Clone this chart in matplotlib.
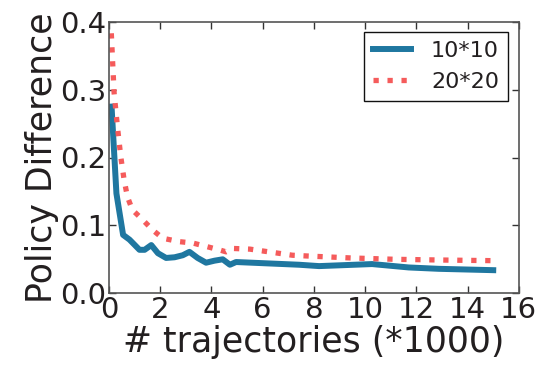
import matplotlib
matplotlib.use("Agg")
import matplotlib.pyplot as plt

x_10 = [0.1, 0.29, 0.55, 0.8, 1.19, 1.39, 1.65, 1.91, 2.23, 2.56, 2.88, 3.14, 3.46, 3.79, 4.12, 4.44, 4.72, 4.96, 7.42, 8.2, 10.27, 11.7, 12.87, 15.0]
y_10 = [0.275, 0.147, 0.086, 0.079, 0.064, 0.064, 0.071, 0.059, 0.052, 0.053, 0.056, 0.061, 0.052, 0.045, 0.048, 0.050, 0.042, 0.046, 0.042, 0.040, 0.043, 0.038, 0.036, 0.034]

x_20 = [0.09, 0.15, 0.2, 0.33, 0.46, 0.59, 0.72, 0.91, 1.32, 1.71, 2.1, 2.75, 3.27, 3.79, 4.3, 4.57, 4.83, 5.5, 7.16, 7.68, 9.44, 11.18, 12.87, 15.0]
y_20 = [0.383, 0.334, 0.295, 0.245, 0.201, 0.167, 0.142, 0.123, 0.108, 0.093, 0.081, 0.076, 0.074, 0.069, 0.064, 0.061, 0.066, 0.065, 0.056, 0.055, 0.052, 0.050, 0.049, 0.048]

labels = ["10*10", "20*20"]
x_ticks = [0, 2, 4, 6, 8, 10, 12, 14, 16]
y_ticks = [0.0, 0.1, 0.2, 0.3, 0.4]

plt.rcParams['font.family'] = ['DejaVu Sans']
txt = '#231f20'
fig = plt.figure(figsize=(5.45, 3.75), dpi=100)
ax = fig.add_axes([0.2, 0.218, 0.752, 0.724])

ax.plot(x_10, y_10, color='#1f77a0', lw=4.3, label=labels[0], solid_joinstyle='round')
ax.plot(x_20, y_20, color='#f55b5b', lw=3.8, ls=':', label=labels[1])

ax.set_xlim(0, 16)
ax.set_ylim(0, 0.4)
ax.set_xticks(x_ticks)
ax.set_yticks(y_ticks)
ax.set_yticklabels([f"{v:.1f}" for v in y_ticks])
ax.tick_params(direction='in', top=True, right=True, length=5, width=1,
               color='#333333', labelsize=21, labelcolor=txt, pad=2)
for s in ax.spines.values():
    s.set_color('#555555')
    s.set_linewidth(1.2)

ax.set_xlabel('# trajectories (*1000)', fontsize=25, color=txt, labelpad=1)
ax.set_ylabel('Policy Difference', fontsize=25, color=txt, labelpad=1)

leg = ax.legend(loc='upper right', fontsize=16, handlelength=1.7, handletextpad=0.9,
                fancybox=False, framealpha=1, borderpad=0.4, labelspacing=0.5,
                borderaxespad=0, bbox_to_anchor=(0.973, 0.962))
leg.get_frame().set_edgecolor('#111111')
leg.get_frame().set_linewidth(1.0)
for t in leg.get_texts():
    t.set_color(txt)

fig.savefig('out.png', dpi=100)
